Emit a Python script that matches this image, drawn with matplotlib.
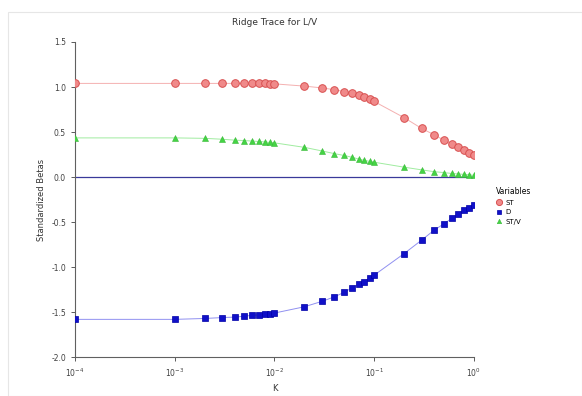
import numpy as np
import matplotlib
matplotlib.use("Agg")
from matplotlib import pyplot as plt
from matplotlib.patches import Rectangle

# ridge parameter k
k = [0.0001, 0.001, 0.002, 0.003, 0.004, 0.005, 0.006, 0.007, 0.008, 0.009,
     0.01, 0.02, 0.03, 0.04, 0.05, 0.06, 0.07, 0.08, 0.09,
     0.1, 0.2, 0.3, 0.4, 0.5, 0.6, 0.7, 0.8, 0.9, 1.0]

st = [1.04, 1.04, 1.04, 1.04, 1.04, 1.04, 1.04, 1.04, 1.04, 1.035,
      1.035, 1.01, 0.99, 0.97, 0.95, 0.93, 0.91, 0.89, 0.87,
      0.84, 0.66, 0.54, 0.47, 0.41, 0.37, 0.33, 0.30, 0.27, 0.24]

d = [-1.58, -1.58, -1.57, -1.56, -1.555, -1.545, -1.535, -1.53, -1.52, -1.515,
     -1.51, -1.44, -1.38, -1.33, -1.28, -1.23, -1.19, -1.16, -1.12,
     -1.09, -0.85, -0.70, -0.59, -0.52, -0.46, -0.41, -0.37, -0.34, -0.31]

stv = [0.435, 0.435, 0.43, 0.42, 0.41, 0.405, 0.40, 0.395, 0.39, 0.385,
       0.38, 0.33, 0.29, 0.26, 0.24, 0.22, 0.20, 0.185, 0.175,
       0.165, 0.11, 0.08, 0.06, 0.05, 0.04, 0.035, 0.03, 0.025, 0.02]

labels = ["ST", "D", "ST/V"]

fig = plt.figure(figsize=(5.82, 3.96), dpi=100)
fig.patches.append(Rectangle((0.014, 0.0), 0.986, 0.97, transform=fig.transFigure,
                             fill=False, edgecolor="#e6e6e6", linewidth=0.8))
ax = fig.add_axes([0.129, 0.098, 0.685, 0.796])

ax.axhline(0, color="#3a3a9a", linewidth=0.9, zorder=1)

ax.plot(k, st, color="#f4b0b0", linewidth=0.7, marker="o", markersize=5.5,
        markerfacecolor="#f08a8a", markeredgecolor="#d85050", markeredgewidth=0.7,
        label=labels[0], zorder=3)
ax.plot(k, d, color="#9090f0", linewidth=0.7, marker="s", markersize=4.2,
        markerfacecolor="#1010c8", markeredgecolor="#0000a8", markeredgewidth=0.5,
        label=labels[1], zorder=3)
ax.plot(k, stv, color="#a0eca0", linewidth=0.7, marker="^", markersize=4,
        markerfacecolor="#44d444", markeredgecolor="#38b838", markeredgewidth=0.4,
        label=labels[2], zorder=3)

ax.set_xscale("log")
ax.set_xlim(1e-4, 1)
ax.set_ylim(-2.0, 1.5)
ax.set_yticks(np.arange(-2.0, 1.51, 0.5))
ax.set_yticklabels(["%.1f" % v for v in np.arange(-2.0, 1.51, 0.5)])
ax.minorticks_off()

for s in ["top", "right"]:
    ax.spines[s].set_visible(False)
for s in ["left", "bottom"]:
    ax.spines[s].set_color("#606060")
    ax.spines[s].set_linewidth(0.8)
ax.tick_params(labelsize=5.5, length=3, width=0.6, colors="#404040", direction="out")

ax.set_title("Ridge Trace for L/V", fontsize=6.5, color="#333333", pad=12)
ax.set_xlabel("K", fontsize=6, color="#333333")
ax.set_ylabel("Standardized Betas", fontsize=6, color="#333333")

leg = ax.legend(title="Variables", loc="center left", bbox_to_anchor=(1.04, 0.48),
                frameon=False, fontsize=5, title_fontsize=5.5, handletextpad=0.4,
                handlelength=1.0, labelspacing=0.5, markerscale=0.8)
leg._legend_box.align = "left"
for line in leg.get_lines():
    line.set_linestyle("none")

plt.savefig("out.png", dpi=100)
